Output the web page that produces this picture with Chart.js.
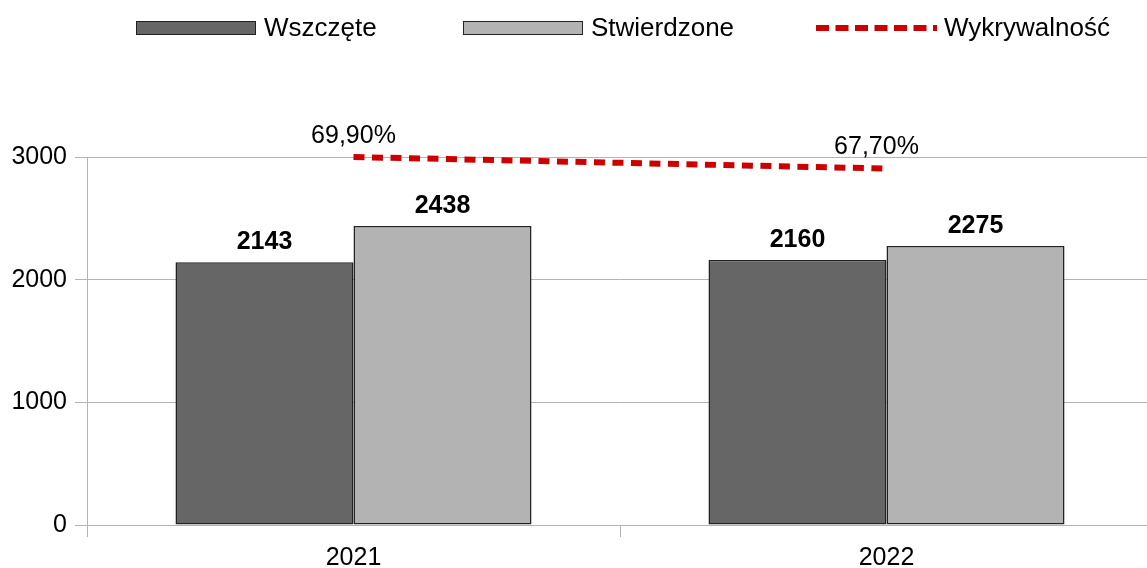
<!DOCTYPE html>
<html>
<head>
<meta charset="utf-8">
<script src="https://cdn.jsdelivr.net/npm/chart.js@4/dist/chart.umd.min.js"></script>
<style>
html,body{margin:0;padding:0;overflow:hidden;background:#fff;}
#wrap{width:1153px;height:568px;}
</style>
</head>
<body>
<div id="wrap"><canvas id="c" width="1153" height="568"></canvas></div>
<script>
const categories = ['2021', '2022'];
const wszczete = [2143, 2160];
const stwierdzone = [2438, 2275];
const wykrywalnosc = [69.9, 67.7];
const seriesNames = ['Wszczęte', 'Stwierdzone', 'Wykrywalność'];
const yTicks = [0, 1000, 2000, 3000];

const FONT = '"Liberation Sans", Arial, sans-serif';

function fmtPct(v){ return v.toFixed(2).replace('.', ',') + '%'; }

const labelPlugin = {
  id: 'labels',
  afterDatasetsDraw(chart){
    const ctx = chart.ctx;
    ctx.save();
    ctx.fillStyle = '#000';
    ctx.textAlign = 'center';
    ctx.textBaseline = 'middle';
    [0,1].forEach(di => {
      const meta = chart.getDatasetMeta(di);
      meta.data.forEach((el, i) => {
        ctx.font = 'bold 25px ' + FONT;
        ctx.fillText(String(chart.data.datasets[di].data[i]), el.x, el.y - 20);
      });
    });
    const lm = chart.getDatasetMeta(2);
    lm.data.forEach((el, i) => {
      ctx.font = '25px ' + FONT;
      ctx.fillText(fmtPct(chart.data.datasets[2].data[i]), el.x - (i === 1 ? 10 : 0), el.y - 21);
    });
    ctx.restore();
  }
};

const legendPlugin = {
  id: 'customLegend',
  afterDraw(chart){
    const ctx = chart.ctx;
    const ds = chart.data.datasets;
    ctx.save();
    ctx.font = '26px ' + FONT;
    ctx.textBaseline = 'middle';
    ctx.textAlign = 'left';
    const items = [{x:136},{x:463},{x:816}];
    const cy = 28;
    items.forEach((it, i) => {
      const d = ds[i];
      if (d.type === 'line') {
        ctx.strokeStyle = d.borderColor;
        ctx.lineWidth = 6;
        ctx.setLineDash([13, 6.5]);
        ctx.beginPath();
        ctx.moveTo(it.x, cy);
        ctx.lineTo(it.x + 121, cy);
        ctx.stroke();
        ctx.setLineDash([]);
      } else {
        ctx.fillStyle = d.backgroundColor;
        ctx.fillRect(it.x, 21, 120, 14);
        ctx.strokeStyle = '#222';
        ctx.lineWidth = 1;
        ctx.strokeRect(it.x + 0.5, 21.5, 119, 13);
      }
      ctx.fillStyle = '#000';
      ctx.fillText(d.label, it.x + 128, cy + 1);
    });
    ctx.restore();
  }
};

new Chart(document.getElementById('c'), {
  data: {
    labels: categories,
    datasets: [
      { type:'bar', label: seriesNames[0], data: wszczete, backgroundColor:'#666666', borderColor:'#222222', borderWidth:1.5, borderSkipped:false, yAxisID:'y', order:2 },
      { type:'bar', label: seriesNames[1], data: stwierdzone, backgroundColor:'#b3b3b3', borderColor:'#222222', borderWidth:1.5, borderSkipped:false, yAxisID:'y', order:2 },
      { type:'line', label: seriesNames[2], data: wykrywalnosc, borderColor:'#cc0000', backgroundColor:'#cc0000', borderWidth:6, borderDash:[11,7.5], pointRadius:0, tension:0, yAxisID:'y1', order:1, clip:false }
    ]
  },
  options: {
    responsive:false,
    animation:false,
    layout:{ padding:{ top:157, left:0, right:0, bottom:0 } },
    plugins:{ legend:{ display:false }, tooltip:{ enabled:false } },
    datasets:{ bar:{ barPercentage:1, categoryPercentage:0.668 } },
    scales:{
      x:{
        offset:true,
        grid:{ display:true, drawOnChartArea:false, tickLength:12, color:'#b3b3b3', offset:true },
        border:{ color:'#b3b3b3' },
        ticks:{ color:'#000', font:{ family:FONT, size:25 }, padding:6 },
        afterFit(s){ s.height = 43; }
      },
      y:{
        min:0, max:3000,
        afterBuildTicks(s){ s.ticks = yTicks.map(v => ({value:v})); },
        grid:{ color:'#b3b3b3', tickLength:12 },
        border:{ color:'#b3b3b3' },
        ticks:{ color:'#000', font:{ family:FONT, size:25 }, padding:8, callback:(v) => String(v) },
        afterFit(s){ s.width = 87; }
      },
      y1:{ display:false, min:0, max:69.9 }
    }
  },
  plugins:[labelPlugin, legendPlugin]
});
</script>
</body>
</html>
